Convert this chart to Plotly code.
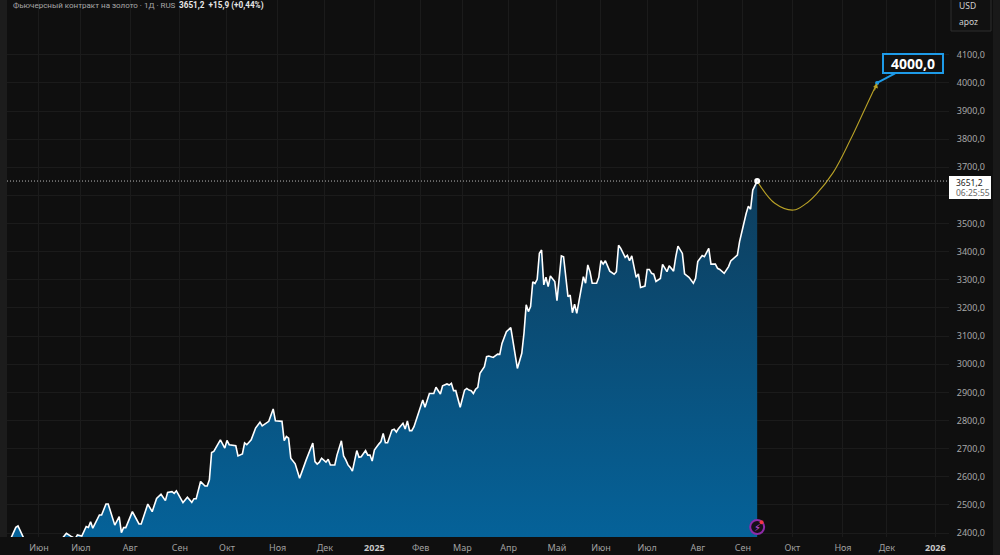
import plotly.graph_objects as go

# Gold futures, daily sessions: session number and close (turning points)
sessions = [0,2,4,5,7,8,12,18,24,27,29,31,32,34,36,37,38,39,42,43,45,46,49,51,52,53,54,57,60,61,64,66,68,70,72,73,75,76,77,80,82,84,85,86,88,90,91,92,93,94,97,99,100,101,104,105,107,108,109,111,113,115,116,119,121,122,125,126,127,128,129,131,133,135,136,139,140,141,142,143,145,146,147,149,150,152,153,154,155,156,157,159,160,161,163,164,165,166,167,169,170,171,172,173,175,176,177,178,180,181,182,183,184,185,187,189,190,192,194,195,197,198,200,201,202,203,204,206,208,209,210,211,212,213,214,215,217,218,219,221,223,224,225,227,229,230,232,234,235,236,237,238,239,240,241,242,243,244,245,246,247,249,250,252,253,255,256,257,258,259,261,262,263,264,265,266,268,269,270,271,272,274,276,277,278,279,281,282,283,284,286,287,288,290,291,292,293,294,295,297,298,300,301,303,304,305,307,308,310,312,313,314,316,317,319,320,322,323,324,326,328,329,332,333,336,337,338,339,341]
prices = [2350,2387,2420,2425,2387,2375,2350,2340,2370,2399,2389,2380,2393,2389,2423,2420,2440,2417,2464,2464,2503,2503,2428,2458,2401,2419,2419,2476,2432,2432,2503,2476,2523,2538,2515,2544,2547,2541,2550,2508,2527,2509,2522,2522,2583,2567,2567,2589,2686,2690,2731,2702,2729,2714,2710,2674,2681,2720,2714,2731,2773,2794,2781,2797,2841,2799,2797,2728,2743,2737,2666,2646,2595,2634,2660,2720,2654,2645,2652,2666,2652,2662,2642,2642,2677,2728,2674,2660,2642,2633,2620,2693,2669,2671,2693,2677,2677,2656,2695,2716,2725,2754,2721,2721,2766,2769,2759,2772,2790,2770,2798,2764,2764,2778,2822,2873,2847,2896,2896,2918,2894,2923,2930,2926,2932,2906,2906,2847,2908,2914,2908,2906,2896,2911,2918,2968,2991,3027,3029,3024,3036,3035,3074,3116,3130,3086,2985,3039,3110,3211,3187,3205,3293,3287,3302,3394,3406,3282,3309,3276,3314,3294,3226,3385,3382,3240,3246,3183,3213,3181,3276,3311,3288,3353,3329,3288,3288,3309,3368,3356,3368,3331,3320,3329,3423,3412,3380,3387,3368,3385,3309,3321,3273,3278,3337,3337,3323,3320,3294,3305,3355,3329,3350,3331,3382,3420,3394,3321,3309,3288,3305,3365,3386,3382,3412,3356,3356,3341,3337,3323,3347,3367,3388,3436,3536,3562,3551,3619,3651.2]

# Projected path to the target
proj_sessions = [341,349,357.5,363,368,375.6,383.2,390.7,395.5]
proj_prices = [3651,3572,3548,3570,3606,3682,3795,3920,4000]

month_ticks = [14.5,33.6,56,78.6,100,123,144.5,167,188,207,228,250,270,291,314,334.5,357,380,400,422]
month_labels = ["Июн","Июл","Авг","Сен","Окт","Ноя","Дек","2025","Фев","Мар","Апр","Май","Июн","Июл","Авг","Сен","Окт","Ноя","Дек","2026"]
month_text = [f'<span style="color:#c8c8c8"><b>{m}</b></span>' if m.isdigit() else m for m in month_labels]
price_ticks = list(range(2400, 4101, 100))
price_text = [f"{p},0" for p in price_ticks]

BG = "#0f0f0f"
FONT = "Noto Sans"
W, H = 1000, 555
L, R, T, B = 7, 51, 0, 18
PW = W - L - R
PH = H - T - B

def px(x):
    return (x - L) / PW

def py(y):
    return 1 - (y - T) / PH

fig = go.Figure()
fig.add_trace(go.Scatter(
    x=sessions, y=prices, mode="lines",
    line=dict(color="#ffffff", width=1.6),
    fill="tozeroy",
    fillgradient=dict(type="vertical", start=2385, stop=3660,
                      colorscale=[[0, "#056299"], [1, "#0e3d5c"]]),
    hoverinfo="skip",
))
fig.add_trace(go.Scatter(
    x=proj_sessions, y=proj_prices, mode="lines",
    line=dict(color="#b9a227", width=1.1, shape="spline", smoothing=1),
    hoverinfo="skip",
))
fig.add_trace(go.Scatter(
    x=[sessions[-1]], y=[prices[-1]], mode="markers",
    marker=dict(color="#ffffff", size=6), hoverinfo="skip",
))
fig.add_trace(go.Scatter(
    x=[proj_sessions[-1]], y=[proj_prices[-1]], mode="markers",
    marker=dict(color="#1e9be8", size=4), hoverinfo="skip",
))
fig.add_trace(go.Scatter(
    x=[sessions[-1]], y=[2421], mode="markers",
    marker=dict(color="#161018", size=14, line=dict(color="#8e2aa8", width=2)),
    hoverinfo="skip",
))
fig.add_trace(go.Scatter(
    x=[sessions[-1] + 2], y=[2438], mode="markers",
    marker=dict(color="#f23645", size=4), hoverinfo="skip",
))

shapes = [
    dict(type="rect", xref="paper", yref="paper", x0=px(0), x1=0, y0=0, y1=1,
         fillcolor="#1c1c1c", line_width=0, layer="below"),
    dict(type="rect", xref="paper", yref="paper", x0=px(993), x1=px(1000), y0=py(555), y1=1,
         fillcolor="#191919", line_width=0, layer="below"),
    dict(type="line", xref="paper", yref="y", x0=0, x1=1, y0=prices[-1], y1=prices[-1],
         line=dict(color="#b8b8b8", width=1, dash="1px,2px")),
    dict(type="rect", xref="paper", yref="paper", x0=px(951), x1=px(991), y0=py(31), y1=py(-3),
         fillcolor="#111111", line=dict(color="#2e2e2e", width=1)),
    dict(type="rect", xref="paper", yref="paper", x0=px(949), x1=px(991), y0=py(199), y1=py(176),
         fillcolor="#ffffff", line_width=0, layer="above"),
]

anns = [
    dict(xref="paper", yref="paper", x=px(11), y=py(5.5), xanchor="left", yanchor="middle",
         showarrow=False, align="left", font=dict(family="Roboto", size=8, color="#a8a8a8"),
         text='Фьючерсный контракт на золото · 1Д · RUS'),
    dict(xref="paper", yref="paper", x=px(177), y=py(5.5), xanchor="left", yanchor="middle",
         showarrow=False, align="left", font=dict(family="Roboto", size=8.2, color="#e6e6e6"),
         text='<b>3651,2  +15,9 (+0,44%)</b>'),
    dict(xref="paper", yref="paper", x=px(957), y=py(6), xanchor="left", yanchor="middle",
         showarrow=False, font=dict(family=FONT, size=8.5, color="#d0d0d0"), text="USD"),
    dict(xref="paper", yref="paper", x=px(957), y=py(22), xanchor="left", yanchor="middle",
         showarrow=False, font=dict(family=FONT, size=8.5, color="#d0d0d0"), text="apoz"),
    dict(xref="paper", yref="paper", x=px(954), y=py(182), xanchor="left", yanchor="middle",
         showarrow=False, font=dict(family=FONT, size=8.5, color="#222222"), text="3651,2"),
    dict(xref="paper", yref="paper", x=px(954), y=py(192), xanchor="left", yanchor="middle",
         showarrow=False, font=dict(family=FONT, size=8.5, color="#666666"), text="06:25:55"),
    # arrow head on the projection
    dict(x=proj_sessions[-1], y=proj_prices[-1], ax=-3, ay=9, text="", showarrow=True,
         arrowhead=2, arrowsize=1, arrowwidth=1, arrowcolor="#b9a227", xref="x", yref="y"),
    # target callout
    dict(x=proj_sessions[-1], y=proj_prices[-1], xref="x", yref="y", ax=36, ay=-19,
         text="<b>4000,0</b>", showarrow=True, arrowhead=0, arrowwidth=2, arrowcolor="#1e9be8",
         font=dict(family=FONT, size=14, color="#ffffff"), bgcolor="#111111",
         bordercolor="#1e9be8", borderwidth=2, borderpad=0, width=58, height=17, xanchor="center"),
    # lightning badge
    dict(x=sessions[-1], y=2421, xref="x", yref="y", showarrow=False, text="⚡",
         font=dict(family="DejaVu Sans", size=10, color="#c04fdc")),
]

fig.update_layout(
    width=W, height=H, autosize=False, showlegend=False,
    margin=dict(l=L, r=R, t=T, b=B, pad=0),
    paper_bgcolor=BG, plot_bgcolor=BG,
    font=dict(family=FONT, size=9, color="#a8a8a8"),
    shapes=shapes, annotations=anns,
    xaxis=dict(range=[0, 428.2], tickmode="array", tickvals=month_ticks, ticktext=month_text,
               showgrid=True, gridcolor="#1b1b1b", gridwidth=1, zeroline=False, showline=False,
               ticks="outside", ticklen=2, tickcolor=BG, tickangle=0,
               tickfont=dict(family=FONT, size=9, color="#a0a0a0")),
    yaxis=dict(side="right", range=[2385.8, 4294.8], tickmode="array", tickvals=price_ticks,
               ticktext=price_text, showgrid=True, gridcolor="#1b1b1b", gridwidth=1,
               zeroline=False, showline=False, ticks="outside", ticklen=5, tickcolor=BG,
               tickfont=dict(family=FONT, size=9, color="#a8a8a8")),
)

fig.write_html("out.html", config=dict(displayModeBar=False),
               post_script="document.body.style.margin='0';document.body.style.overflow='hidden';document.body.style.background='#0f0f0f';")
